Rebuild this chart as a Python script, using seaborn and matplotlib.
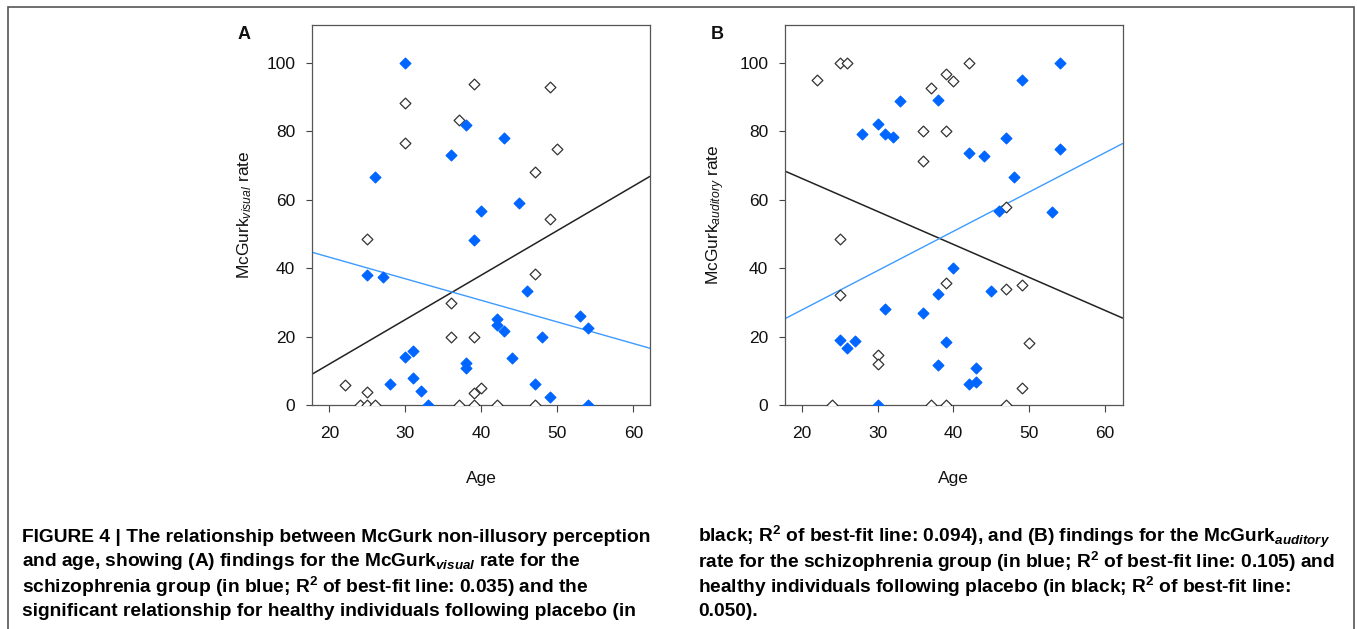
import matplotlib
matplotlib.use("Agg")
import numpy as np
import pandas as pd
import seaborn as sns
from matplotlib import pyplot as plt
from matplotlib.patches import Rectangle

# Panel A: McGurk visual rate vs age
a_scz_age = [30, 38, 43, 36, 26, 45, 40, 39, 25, 27, 46, 53, 54, 42, 42, 43, 48, 44,
             31, 30, 38, 38, 31, 28, 32, 47, 49, 33, 54]
a_scz_rate = [100, 81.8, 78.0, 73.1, 66.6, 59.0, 56.6, 48.1, 38.0, 37.4, 33.4, 26.1, 22.4,
              25.1, 23.4, 21.7, 19.9, 13.6, 15.8, 14.1, 12.4, 10.7, 8.0, 6.0, 4.2, 6.2, 2.4, 0, 0]
a_hc_age = [39, 49, 30, 37, 30, 50, 47, 49, 25, 47, 36, 36, 39, 22, 25, 39, 40,
            24, 25, 26, 37, 39, 42, 47]
a_hc_rate = [93.9, 92.9, 88.3, 83.3, 76.5, 74.8, 68.1, 54.4, 48.6, 38.4, 29.7, 20.0, 19.9,
             5.7, 3.9, 3.4, 5.1, 0, 0, 0, 0, 0, 0, 0]

# Panel B: McGurk auditory rate vs age
b_scz_age = [54, 49, 33, 38, 30, 28, 31, 32, 47, 42, 44, 54, 48, 46, 53,
             40, 38, 45, 31, 36, 25, 27, 26, 39, 38, 43, 42, 43, 30]
b_scz_rate = [100, 95.0, 88.8, 89.1, 82.1, 79.2, 79.2, 78.2, 78.0, 73.7, 72.7, 74.9, 66.6, 56.6, 56.3,
              40.0, 32.4, 33.4, 28.0, 26.8, 19.0, 18.7, 16.6, 18.4, 11.6, 10.9, 6.0, 6.7, 0]
b_hc_age = [22, 25, 26, 42, 39, 40, 37, 36, 39, 36, 47,
            25, 25, 39, 47, 49, 50, 30, 30, 49, 24, 37, 39, 47]
b_hc_rate = [94.8, 100, 100, 100, 96.6, 94.5, 92.6, 80.0, 80.0, 71.4, 57.8,
             48.6, 32.2, 35.7, 34.0, 35.1, 18.0, 14.6, 11.9, 5.1, 0, 0, 0, 0]

y_ticks = [0, 20, 40, 60, 80, 100]
x_ticks = [20, 30, 40, 50, 60]

caption_left = [
    "FIGURE 4 | The relationship between McGurk non-illusory perception",
    r"and age, showing (A) findings for the McGurk$_{\mathbfit{visual}}$ rate for the",
    r"schizophrenia group (in blue; R$^{\mathbf{2}}$ of best-fit line: 0.035) and the",
    "significant relationship for healthy individuals following placebo (in",
]
caption_right = [
    r"black; R$^{\mathbf{2}}$ of best-fit line: 0.094), and (B) findings for the McGurk$_{\mathbfit{auditory}}$",
    r"rate for the schizophrenia group (in blue; R$^{\mathbf{2}}$ of best-fit line: 0.105) and",
    r"healthy individuals following placebo (in black; R$^{\mathbf{2}}$ of best-fit line:",
    "0.050).",
]

SCZ_BLUE = "#0066ff"
SCZ_LINE = "#3d9bff"
HC_EDGE = "#333333"
TEXT = "#111111"

sns.set_style("ticks")
plt.rcParams["font.family"] = ["Liberation Sans", "DejaVu Sans"]
plt.rcParams["mathtext.fontset"] = "custom"
plt.rcParams["mathtext.rm"] = "Liberation Sans"
plt.rcParams["mathtext.it"] = "Liberation Sans:italic"
plt.rcParams["mathtext.bf"] = "Liberation Sans:bold"
plt.rcParams["mathtext.bfit"] = "Liberation Sans:italic:bold"
plt.rcParams["text.color"] = TEXT
plt.rcParams["axes.labelcolor"] = TEXT

fig = plt.figure(figsize=(13.57, 6.29), dpi=100)

panels = [
    ("A", [0.2299, 0.3561, 0.2491, 0.6042], (17.7, 62.2), a_scz_age, a_scz_rate, a_hc_age, a_hc_rate,
     r"McGurk$_{\mathit{visual}}$ rate"),
    ("B", [0.5785, 0.3561, 0.2487, 0.6042], (17.8, 62.3), b_scz_age, b_scz_rate, b_hc_age, b_hc_rate,
     r"McGurk$_{\mathit{auditory}}$ rate"),
]

for letter, rect, xlim, scz_x, scz_y, hc_x, hc_y, ylabel in panels:
    ax = fig.add_axes(rect)
    ax.set_xlim(*xlim)
    ax.set_ylim(0, 111)
    scz = pd.DataFrame({"age": scz_x, "rate": scz_y})
    hc = pd.DataFrame({"age": hc_x, "rate": hc_y})

    sns.scatterplot(data=hc, x="age", y="rate", marker="D", s=30, color="white",
                    edgecolor=HC_EDGE, linewidth=0.9, ax=ax, zorder=3)
    sns.scatterplot(data=scz, x="age", y="rate", marker="D", s=30, color=SCZ_BLUE,
                    edgecolor=SCZ_BLUE, linewidth=0.9, ax=ax, zorder=3)
    # best-fit lines, extended over the full axis width
    sns.regplot(data=hc, x="age", y="rate", scatter=False, ci=None, truncate=False,
                color="#222222", line_kws={"linewidth": 1.1}, ax=ax)
    sns.regplot(data=scz, x="age", y="rate", scatter=False, ci=None, truncate=False,
                color=SCZ_LINE, line_kws={"linewidth": 1.0}, ax=ax)
    ax.set_xlim(*xlim)
    ax.set_ylim(0, 111)

    ax.set_xticks(x_ticks)
    ax.set_yticks(y_ticks)
    ax.tick_params(axis="x", length=5, width=0.8, pad=10, labelsize=12.5, color="#444444",
                   labelcolor=TEXT)
    ax.tick_params(axis="y", length=4, width=0.8, pad=8, labelsize=12.5, color="#444444",
                   labelcolor=TEXT)
    for sp in ax.spines.values():
        sp.set_visible(True)
        sp.set_color("#555555")
        sp.set_linewidth(0.9)
    ax.set_xlabel("Age", fontsize=12.5, labelpad=22)
    ax.set_ylabel(ylabel, fontsize=12.5, labelpad=9)
    ax.text(-0.2, 0.975, letter, transform=ax.transAxes, fontsize=13, fontweight="bold",
            ha="center", va="center")

for i, line in enumerate(caption_left):
    fig.text(22 / 1357, 1 - (537 + 25 * i) / 629, line, fontsize=13.8, fontweight="bold",
             ha="left", va="center", color="black")
for i, line in enumerate(caption_right):
    fig.text(698 / 1357, 1 - (537 + 25 * i) / 629, line, fontsize=13.8, fontweight="bold",
             ha="left", va="center", color="black")

fig.patches.append(Rectangle((8 / 1357, -0.05), 1346 / 1357, 1.05 - 7 / 629,
                             transform=fig.transFigure, fill=False, edgecolor="#555555",
                             linewidth=1.2))

fig.savefig("out.png", dpi=100)
